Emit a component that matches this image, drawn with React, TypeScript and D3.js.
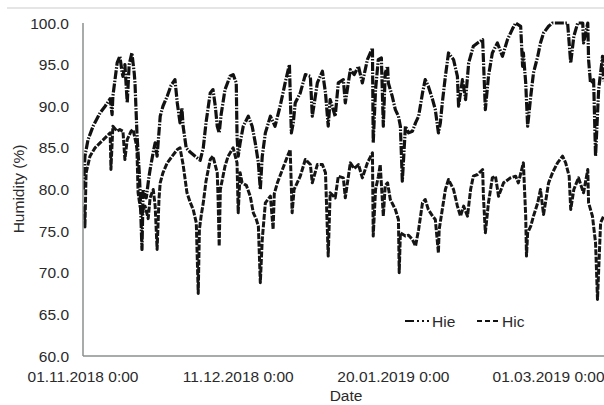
import React from "react";
import * as d3 from "d3";

const startDate = new Date(2018, 10, 1);
const endDate = new Date(2019, 2, 16);
const xTickDates = [
  new Date(2018, 10, 1),
  new Date(2018, 11, 11),
  new Date(2019, 0, 20),
  new Date(2019, 2, 1),
];
const yTicks = [60, 65, 70, 75, 80, 85, 90, 95, 100];
const seriesNames = ["Hie", "Hic"];

// day offsets from 01.11.2018 0:00 and humidity values (%)
const hieDays = [0.1,0.5,1.3,2.6,3.6,4.4,5.7,7.0,7.5,7.7,8.8,9.5,10.1,10.3,10.8,11.4,11.9,12.6,13.2,13.4,13.9,14.5,14.7,15.2,15.5,16.3,17.0,17.3,18.1,18.6,19.1,19.9,20.6,21.7,22.7,23.7,24.3,25.0,25.5,25.8,26.6,27.6,28.9,30.2,31.0,31.7,32.8,33.5,34.1,34.6,35.1,35.6,36.6,37.9,38.7,39.5,39.7,40.0,40.5,41.3,42.6,43.6,44.4,45.2,45.7,46.2,47.0,48.3,49.5,50.8,52.1,53.2,53.7,54.2,54.7,56.0,57.3,58.6,59.1,60.4,61.7,62.5,63.2,63.7,65.0,65.8,67.1,67.6,68.9,69.9,71.0,72.0,73.3,74.6,74.8,75.4,76.1,76.9,77.4,77.9,78.5,78.7,79.7,80.5,81.3,81.8,82.3,83.1,83.9,84.9,85.7,86.5,87.5,88.2,89.0,90.1,90.8,91.6,92.1,92.6,93.4,94.2,95.5,96.5,96.8,97.8,98.6,99.4,100.6,101.7,103.0,103.2,103.7,104.5,105.5,106.8,108.1,109.4,110.7,111.5,112.8,113.3,113.5,114.1,114.6,115.4,116.1,117.2,117.9,118.7,120.0,121.0,123.1,124.9,125.7,126.5,127.5,128.8,129.0,130.1,130.3,130.8,131.6,132.1,132.9,133.9,134.2];
const hieValues = [80,84,86,87.6,88.5,89.2,90,90.9,89,91.2,95.2,96,94,93.6,95,90.4,95,96.4,94,92.8,86.8,82,80,72.8,80,79,81.5,82.4,84.5,85.6,84,88.8,90,91.2,92.5,93.2,90.4,88,89.8,87.6,85,84.5,84,83.5,85,88,91.6,92,90,87.6,86.8,89,92,93.6,93.8,92.8,86.4,84,85.6,87.6,88.8,87.6,85.6,83.2,80,84,86.8,88.8,87.6,90,92.8,95,86.8,88,90.4,91.6,93.8,93.6,88.8,92.8,94.2,91.6,87.6,90.8,88.8,92.8,93.2,90.4,94.4,93.8,94.8,92.8,95.6,97,85.6,92,95.6,95.8,87.6,94,94.8,92.8,91.2,89.6,88.8,87.6,81,87.6,86.8,87,88,88.8,91.6,93.2,92.4,90.8,89.6,86.8,88,90.4,93.6,96.4,95.6,93.6,90,93.2,90.8,95.2,97.2,97.6,98,95.6,89.6,93.6,96.4,97.6,96,98,99.3,100,99.6,94.8,96.4,92.8,87.6,91.2,94,96,97.6,98.8,99.6,100,100,100,95.2,98.4,100,100,97.6,100,95.6,92.8,93.2,84,92,96,93];

const hicDays = [0.3,0.5,0.8,1.8,3.1,4.4,5.7,7.0,7.2,7.7,8.8,9.5,10.3,10.8,11.4,12.4,12.9,13.7,13.9,14.2,14.7,15.2,16.0,16.8,17.3,18.1,18.6,19.1,19.6,19.9,20.6,21.7,23.0,24.3,25.0,25.8,26.8,27.6,28.4,29.2,29.7,30.0,30.5,31.0,31.7,32.8,33.5,34.6,34.8,35.1,35.4,36.6,37.4,38.7,39.7,40.0,40.5,41.0,42.1,43.1,43.9,44.6,45.2,45.7,46.2,47.0,48.3,49.0,49.3,50.1,51.4,52.7,53.4,53.9,54.4,56.0,57.3,58.6,59.1,60.4,61.7,62.5,63.2,63.7,65.0,65.8,67.1,67.6,68.9,69.9,71.0,72.0,73.3,74.6,74.8,75.4,76.1,76.6,77.4,77.9,78.5,79.2,80.5,81.3,81.5,81.8,83.1,83.9,84.9,85.7,86.5,87.5,88.2,89.0,90.1,90.8,91.6,91.8,92.6,93.4,94.2,95.5,96.5,97.3,98.1,99.1,99.9,100.6,101.7,103.0,103.2,103.7,104.5,105.5,106.3,107.1,108.4,110.2,111.5,112.2,113.5,114.1,114.3,114.6,115.4,116.1,117.2,117.9,118.7,120.0,121.0,122.3,123.6,124.4,125.3,125.7,126.5,127.7,129.0,130.1,130.3,131.3,132.1,132.6,133.4,134.2];
const hicValues = [78,75.5,82,84,85,85.6,86.2,86.8,82.4,87.6,87,87.2,87,83.6,86,87,87.2,85.5,84.8,79.6,78,77,78,76.5,79,80,78,72.8,79,80.8,82,83.2,84,84.8,85,83,79.6,78.5,77.6,76,67.5,75.2,77,78.4,81,83.6,84,82,79.2,73.2,80,82.8,84,85,83.2,77.2,82,80.8,80.5,79.2,77.2,76.5,75.6,68.8,74,78.4,79.2,75.2,79.5,80.8,82.4,84,84.8,77.2,80,81.6,83.6,83,80.8,83,83,82,72,79.6,79,81.6,81.4,79,83.2,82.5,83,81.4,83.2,84.4,74.4,80,81.5,83,76.8,80.5,80.8,78.8,77.6,76.4,70,74.8,74.4,74.5,74,73.2,75.2,78.4,78.8,77.6,76.8,76.4,72.4,75.2,77.6,80,81.2,80,78,76.8,78,76.8,80,81.6,81.8,82.4,79.2,74.8,78.4,81.4,81.6,79.2,80.8,81.4,81.6,80.8,83.2,76.8,72,74.8,75.6,76.8,78.4,80,77,80.8,82,83.2,84,83.2,81.6,77.6,80,81.4,79.6,82.4,78.4,76.8,73.6,66.8,76,76.8];

const FONT = "'Liberation Sans', Arial, sans-serif";

export default function App() {
  const W = 604;
  const H = 405;
  const left = 83;
  const pxPerDay = 3.88;
  const totalDays = d3.timeDay.count(startDate, endDate);
  const x = d3.scaleTime().domain([startDate, endDate]).range([left, left + totalDays * pxPerDay]);
  const y = d3.scaleLinear().domain([60, 100]).range([356, 23]);
  const toDate = (d: number) => new Date(startDate.getTime() + d * 86400000);
  const fmt = d3.timeFormat("%d.%m.%Y %-H:%M");

  const line = d3
    .line<[number, number]>()
    .x((d) => x(toDate(d[0])))
    .y((d) => y(d[1]));

  const hie = hieDays.map((d, i) => [d, hieValues[i]] as [number, number]);
  const hic = hicDays.map((d, i) => [d, hicValues[i]] as [number, number]);

  const axisColor = "#8a8f8e";
  const textColor = "#2a2a2a";

  return (
    <div style={{ position: "absolute", left: 0, top: 0 }}>
      <svg width={W} height={H} style={{ display: "block", background: "#fff" }}>
        <line x1={7} x2={W} y1={8} y2={8} stroke="#dcdcdc" strokeWidth={1.5} />
        {/* y tick labels */}
        {yTicks.map((t) => (
          <text
            key={t}
            x={69}
            y={y(t) + 5.5}
            textAnchor="end"
            fontFamily={FONT}
            fontSize={15.5}
            fill={textColor}
          >
            {t.toFixed(1)}
          </text>
        ))}
        {/* x tick labels */}
        {xTickDates.map((d, i) => (
          <text
            key={i}
            x={x(d)}
            y={382}
            textAnchor="middle"
            fontFamily={FONT}
            fontSize={15.5}
            fill={textColor}
          >
            {fmt(d)}
          </text>
        ))}
        {/* axis titles */}
        <text
          transform={`translate(24,${189}) rotate(-90)`}
          textAnchor="middle"
          fontFamily={FONT}
          fontSize={15.5}
          fill={textColor}
        >
          Humidity (%)
        </text>
        <text x={346} y={401} textAnchor="middle" fontFamily={FONT} fontSize={15.5} fill={textColor}>
          Date
        </text>
        {/* series */}
        <g clipPath="url(#clip)" strokeLinejoin="round">
          <path d={line(hic) || ""} fill="none" stroke="#151515" strokeWidth={3} strokeDasharray="6,1.5" />
          <path d={line(hie) || ""} fill="none" stroke="#111" strokeWidth={3.2} strokeDasharray="9,1.5,1.5,1.5" />
        </g>
        <defs>
          <clipPath id="clip">
            <rect x={left} y={18} width={W - left} height={340} />
          </clipPath>
        </defs>
        {/* axes */}
        <line x1={left} x2={left} y1={y(100)} y2={y(60)} stroke={axisColor} strokeWidth={1.5} />
        <line x1={left} x2={W} y1={y(60)} y2={y(60)} stroke={axisColor} strokeWidth={1.5} />
        {/* legend */}
        <g fontFamily={FONT} fontSize={15.5} fill={textColor}>
          <line x1={405} x2={429} y1={321} y2={321} stroke="#111" strokeWidth={2} strokeDasharray="9,3,2,3,2,3" />
          <text x={432} y={326.5}>{seriesNames[0]}</text>
          <line x1={477} x2={500} y1={321} y2={321} stroke="#111" strokeWidth={2} strokeDasharray="5,3" />
          <text x={502} y={326.5}>{seriesNames[1]}</text>
        </g>
      </svg>
    </div>
  );
}
